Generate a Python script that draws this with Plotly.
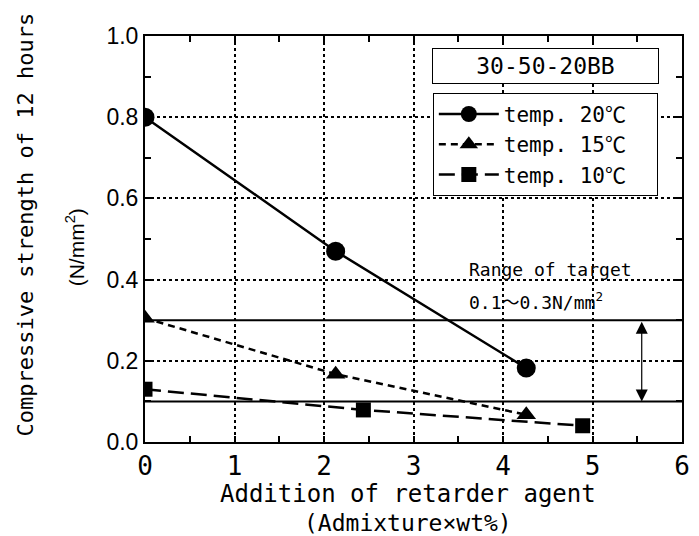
import plotly.graph_objects as go

# Data
x20 = [0, 2.13, 4.26]
y20 = [0.80, 0.47, 0.182]
x15 = [0, 2.13, 4.26]
y15 = [0.305, 0.167, 0.067]
x10 = [0, 2.44, 4.89]
y10 = [0.13, 0.079, 0.04]
names = ["temp. 20℃\u00a0\u00a0", "temp. 15℃\u00a0\u00a0", "temp. 10℃\u00a0\u00a0"]
target_lo, target_hi = 0.1, 0.3
x_ticks = [0, 1, 2, 3, 4, 5, 6]
y_ticks = [0.0, 0.2, 0.4, 0.6, 0.8, 1.0]

MONO = "DejaVu Sans Mono, Noto Sans CJK JP"
SANS = "Liberation Sans, Arial"

fig = go.Figure()
fig.add_trace(go.Scatter(x=x20, y=y20, name=names[0], mode="lines+markers",
                         line=dict(color="black", width=2.5),
                         marker=dict(symbol="circle", size=19, color="black")))
fig.add_trace(go.Scatter(x=x15, y=y15, name=names[1], mode="lines+markers",
                         line=dict(color="black", width=2.5, dash="7px,5px"),
                         marker=dict(symbol="triangle-up", size=17, color="black")))
fig.add_trace(go.Scatter(x=x10, y=y10, name=names[2], mode="lines+markers",
                         line=dict(color="black", width=2.5, dash="16px,7px"),
                         marker=dict(symbol="square", size=15, color="black")))

# target range lines
for yv in (target_lo, target_hi):
    fig.add_shape(type="line", xref="paper", x0=0, x1=1, yref="y", y0=yv, y1=yv,
                  line=dict(color="black", width=2))

# double arrow
fig.add_annotation(x=5.55, y=target_lo, ax=5.55, ay=target_hi, xref="x", yref="y",
                   axref="x", ayref="y", text="", showarrow=True, arrowhead=2,
                   arrowside="end+start", arrowsize=2.0, arrowwidth=1.2, arrowcolor="black")

fig.add_annotation(x=3.6, y=0.425, xref="x", yref="y", text="Range of target",
                   showarrow=False, xanchor="left", yanchor="middle",
                   font=dict(family=MONO, size=18, color="black"))
fig.add_annotation(x=3.6, y=0.347, xref="x", yref="y", text="0.1～0.3N/mm<sup>2</sup>",
                   showarrow=False, xanchor="left", yanchor="middle",
                   font=dict(family=MONO, size=18, color="black"))

# title box
fig.add_annotation(x=0.746, y=0.926, xref="paper", yref="paper", text="30-50-20BB",
                   showarrow=False, xanchor="center", yanchor="middle",
                   width=223, height=32, borderpad=1, bordercolor="black", borderwidth=1,
                   bgcolor="white", font=dict(family=MONO, size=23, color="black"))

# y-axis title pieces
fig.add_annotation(x=-0.222, y=0.535, xref="paper", yref="paper",
                   text="Compressive strength of 12 hours", textangle=-90,
                   showarrow=False, xanchor="center", yanchor="middle",
                   font=dict(family=MONO, size=22, color="black"))
fig.add_annotation(x=-0.13, y=0.48, xref="paper", yref="paper",
                   text="(N/mm<sup>2</sup>)", textangle=-90,
                   showarrow=False, xanchor="center", yanchor="middle",
                   font=dict(family=SANS, size=21, color="black"))

# x-axis title
fig.add_annotation(x=0.49, y=-0.127, xref="paper", yref="paper",
                   text="Addition of retarder agent", showarrow=False,
                   xanchor="center", yanchor="middle",
                   font=dict(family=MONO, size=24, color="black"))
fig.add_annotation(x=0.49, y=-0.199, xref="paper", yref="paper",
                   text="(Admixture×wt%)", showarrow=False,
                   xanchor="center", yanchor="middle",
                   font=dict(family=MONO, size=23, color="black"))

axis_common = dict(showline=True, linecolor="black", linewidth=2, mirror="ticks",
                   ticks="inside", ticklen=6, tickcolor="black", tickwidth=1.5,
                   showgrid=True, gridcolor="black", griddash="dot", gridwidth=1.5,
                   zeroline=False)

fig.update_xaxes(range=[0, 6], tickvals=x_ticks, ticktext=[str(v) for v in x_ticks],
                 ticklabeloverflow="allow",
                 minor=dict(dtick=0.5, ticks="inside", ticklen=6, tickcolor="black",
                            showgrid=False),
                 tickfont=dict(family=MONO, size=26, color="black"), **axis_common)
fig.update_yaxes(range=[0, 1.0], tickvals=y_ticks, tickformat=".1f",
                 minor=dict(dtick=0.1, ticks="inside", ticklen=6, tickcolor="black",
                            showgrid=False),
                 tickfont=dict(family=SANS, size=23, color="black"), **axis_common)

fig.update_layout(
    width=699, height=536,
    margin=dict(l=145, r=9, t=36, b=94),
    paper_bgcolor="white", plot_bgcolor="white",
    showlegend=True,
    legend=dict(x=0.536, y=0.86, xanchor="left", yanchor="top",
                bordercolor="black", borderwidth=1, bgcolor="white",
                font=dict(family=MONO, size=21, color="black"),
                itemwidth=60, tracegroupgap=0),
)

fig.write_html("out.html")
